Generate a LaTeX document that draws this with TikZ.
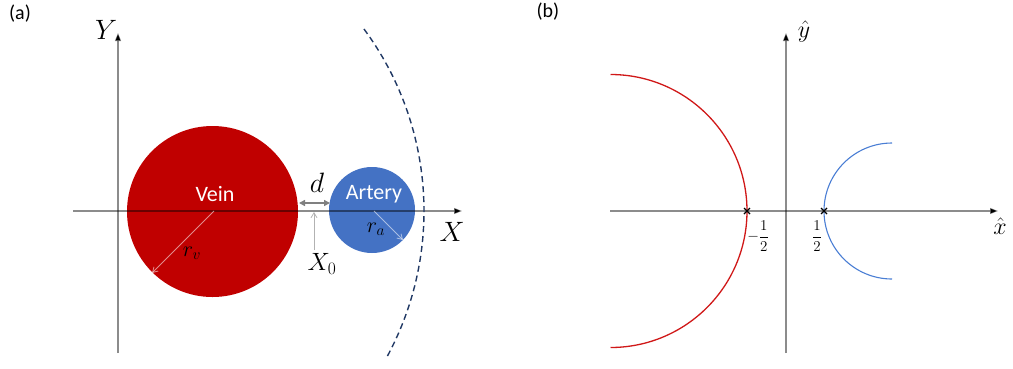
\documentclass[tikz,border=0pt]{standalone}
\usepackage{fix-cm}
\usepackage{fontspec}
\setsansfont{Carlito}
\usetikzlibrary{arrows.meta,calc}
\definecolor{veinred}{HTML}{C00000}
\definecolor{artblue}{HTML}{4472C4}
\definecolor{navy}{HTML}{203864}
\definecolor{arcred}{HTML}{D01818}
\definecolor{arcblue}{HTML}{4A7ED4}
\tikzset{
  axis/.style={draw=black, draw opacity=0.45, line width=1.1pt, -{Triangle[length=8pt,width=6pt,black,fill=black]}},
  panellabel/.style={font=\sffamily\fontsize{20}{24}\selectfont, inner sep=0pt},
  vessel/.style={font=\sffamily\fontsize{22}{26}\selectfont, text=white, inner sep=0pt},
  radius arrow/.style={draw=white, draw opacity=0.55, line width=0.8pt, -{Straight Barb[length=5pt,width=6pt]}},
  bigmath/.style={inner sep=0pt, font=\fontsize{28}{32}\selectfont},
  midmath/.style={inner sep=0pt, font=\fontsize{22}{26}\selectfont},
  fracmath/.style={inner sep=0pt, font=\fontsize{15}{18}\selectfont},
  cross/.style={draw=black, line width=1.3pt}
}
\begin{document}
\begin{tikzpicture}[x=1pt,y=-1pt]
\useasboundingbox (0,0) rectangle (1013,368);
% ---------- panel (a)
\node[panellabel] (la) at (20,14) {(a)};
\fill[veinred] (212.5,211.5) circle[radius=85.5pt];
\fill[artblue] (372,210) circle[radius=43pt];
\coordinate (O) at (118,211);
\coordinate (ybot) at (118,353);
\coordinate (ytop) at (118,33);
\coordinate (xl) at (73,211);
\coordinate (xr) at (462,211);
\draw[axis] (ybot) -- (ytop);
\draw[axis] (xl) -- (xr);
\node[bigmath] (Ylab) at (106,30) {$Y$};
\node[bigmath] (Xlab) at (452,232) {$X$};
\node[vessel] (vein) at (215,194) {Vein};
\node[vessel] (artery) at (374,194) {Artery};
\coordinate (vc) at (214,211);
\coordinate (vend) at (152,273);
\draw[radius arrow] (vc) -- (vend);
\node[midmath] (rv) at (192,253) {$r_v$};
\coordinate (ac) at (374,211);
\coordinate (aend) at (403,240);
\draw[radius arrow] (ac) -- (aend);
\node[midmath] (ra) at (376,229) {$r_a$};
\coordinate (dl) at (299,203);
\coordinate (dr) at (330,203);
\draw[draw=gray, line width=1.5pt, {Triangle[length=6pt,width=6pt]}-{Triangle[length=6pt,width=6pt]}] (dl) -- (dr);
\node[bigmath] (dlab) at (317,183) {$d$};
\coordinate (x0b) at (314,250);
\coordinate (x0t) at (314,212);
\draw[draw=black!30, line width=0.8pt, -{Straight Barb[length=5pt,width=6pt]}] (x0b) -- (x0t);
\node[midmath, font=\fontsize{25}{28}\selectfont] (x0lab) at (322,264) {$X_0$};
\draw[navy, line width=1.4pt, dash pattern=on 6pt off 4pt] (O) ++(36.5:306pt) arc[start angle=36.5, end angle=-28.7, radius=306pt];
% ---------- panel (b)
\node[panellabel] (lb) at (548,12) {(b)};
\coordinate (by1) at (786,353);
\coordinate (by2) at (786,33);
\coordinate (bx1) at (610,211);
\coordinate (bx2) at (998,211);
\draw[axis] (by1) -- (by2);
\draw[axis] (bx1) -- (bx2);
\node[midmath, font=\fontsize{24}{28}\selectfont] (yhat) at (804,31) {$\hat y$};
\node[midmath, font=\fontsize{24}{28}\selectfont] (xhat) at (1000,226) {$\hat x$};
\coordinate (rc) at (610.5,211);
\draw[arcred, line width=1.3pt] (rc) ++(90:136.5pt) arc[start angle=90, end angle=-90, radius=136.5pt];
\coordinate (bc) at (892,211);
\draw[arcblue, line width=1.1pt] (bc) ++(90:68pt) arc[start angle=90, end angle=270, radius=68pt];
\coordinate (m1) at (747,211);
\coordinate (m2) at (824,211);
\draw[cross] ($(m1)+(-3,-3)$) -- ($(m1)+(3,3)$) ($(m1)+(-3,3)$) -- ($(m1)+(3,-3)$);
\draw[cross] ($(m2)+(-3,-3)$) -- ($(m2)+(3,3)$) ($(m2)+(-3,3)$) -- ($(m2)+(3,-3)$);
\node[fracmath] (fm) at (758,236) {$\displaystyle -\frac{1}{2}$};
\node[fracmath] (fp) at (817,236) {$\displaystyle \frac{1}{2}$};
\end{tikzpicture}
\end{document}
